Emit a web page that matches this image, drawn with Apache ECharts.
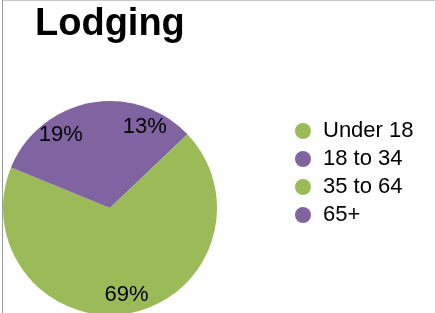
<!DOCTYPE html>
<html><head><meta charset="utf-8">
<script src="https://cdn.jsdelivr.net/npm/echarts@6/dist/echarts.min.js"></script>
<style>
html,body{margin:0;padding:0;background:#fff;}
#wrap{position:relative;width:435px;height:313px;overflow:hidden;}
#chart{position:absolute;left:0;top:0;width:435px;height:313px;}
#bt{position:absolute;left:2px;top:0;width:433px;height:1px;background:#c8c8c8;}
#bl{position:absolute;left:2px;top:0;width:1px;height:313px;background:#9a9a9a;}
</style></head>
<body><div id="wrap"><div id="chart"></div><div id="bt"></div><div id="bl"></div></div>
<script>
var title = 'Lodging';
var categories = ['Under 18', '18 to 34', '35 to 64', '65+'];
var values = [0, 13, 69, 19];
var colors = ['#9BBB59', '#8064A2', '#9BBB59', '#8064A2'];

var chart = echarts.init(document.getElementById('chart'), null, {renderer: 'canvas'});
var data = categories.map(function (c, i) {
  return {name: c, value: values[i], itemStyle: {color: colors[i]}};
});
var labelData = categories.map(function (c, i) {
  return {name: c, value: values[i], itemStyle: {color: 'rgba(0,0,0,0)'},
    label: {show: values[i] > 0}};
});
chart.setOption({
  animation: false,
  title: {
    text: title, left: 30, top: 1,
    textStyle: {fontFamily: 'Liberation Sans', fontWeight: 'bold', fontSize: 38, color: '#000'}
  },
  legend: {
    orient: 'vertical', left: 290, top: 112,
    icon: 'circle', itemWidth: 16, itemHeight: 16, itemGap: 0,
    data: categories.map(function (c, i) { return {name: c, itemStyle: {color: colors[i]}}; }),
    textStyle: {fontFamily: 'Liberation Sans', fontSize: 22, color: '#000', lineHeight: 28, padding: [0, 0, 0, 7]},
    selectedMode: false
  },
  series: [{
    type: 'pie', center: [110, 208], radius: [0, 107],
    startAngle: 90, clockwise: true, silent: true,
    label: {show: false}, labelLine: {show: false},
    data: data
  }, {
    type: 'pie', center: [110, 208], radius: [64, 107],
    startAngle: 90, clockwise: true, silent: true,
    label: {position: 'inside', formatter: function (p) { return p.value + '%'; },
      fontFamily: 'Liberation Sans', fontSize: 22, color: '#000'},
    labelLine: {show: false},
    data: labelData
  }]
});
</script></body></html>
